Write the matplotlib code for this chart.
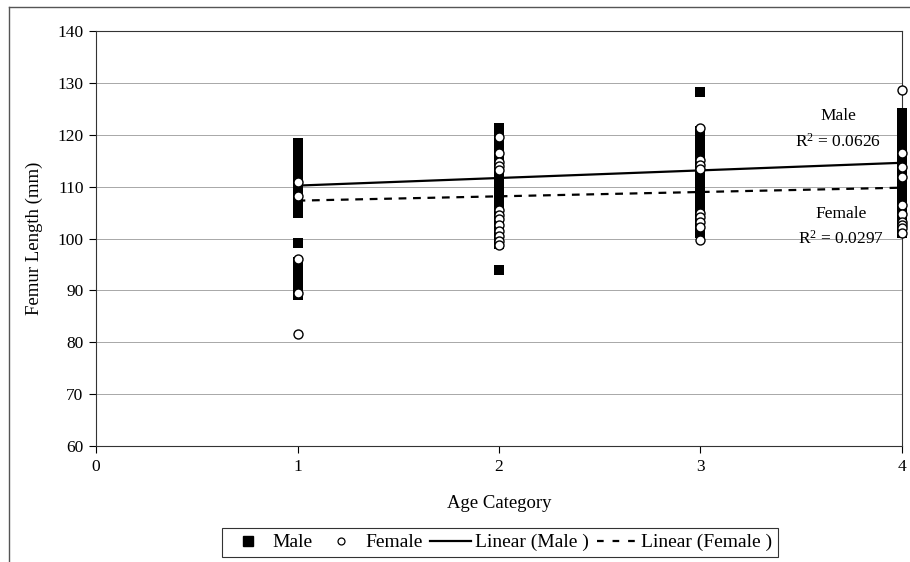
import numpy as np
import matplotlib
matplotlib.use("Agg")
import matplotlib.pyplot as plt
from matplotlib.lines import Line2D

plt.rcParams["font.family"] = ["Liberation Serif", "DejaVu Serif"]
plt.rcParams["mathtext.fontset"] = "custom"
plt.rcParams["mathtext.rm"] = "Liberation Serif"
plt.rcParams["mathtext.it"] = "Liberation Serif:italic"

# Femur length (mm) by age category
male_age1 = [118.4, 117.6, 116.8, 116.0, 115.2, 114.4, 113.6, 112.8, 112.0, 111.2,
             110.4, 109.6, 108.8, 108.0, 107.2, 106.4, 105.6, 105.0,
             99.2, 95.5, 94.7, 93.9, 93.1, 92.3, 91.5, 90.7, 89.9, 89.2]
male_age2 = [121.3, 120.5, 119.7, 118.9, 118.1, 117.3, 116.5, 115.7, 114.9, 114.1,
             113.3, 112.5, 111.7, 110.9, 110.1, 109.3, 108.5, 107.7, 106.9, 106.1,
             105.3, 104.5, 103.7, 102.9, 102.1, 101.3, 100.5, 99.7, 99.0, 94.0]
male_age3 = [128.3, 120.8, 120.0, 119.2, 118.4, 117.6, 116.8, 116.0, 115.2, 114.4,
             113.6, 112.8, 112.0, 111.2, 110.4, 109.6, 108.8, 108.0, 107.2, 106.4,
             105.6, 104.8, 104.0, 103.2, 102.4, 101.6, 101.0]
male_age4 = [124.1, 123.3, 122.5, 121.7, 120.9, 120.1, 119.3, 118.5, 117.7, 116.9,
             116.1, 115.3, 114.5, 113.7, 112.9, 112.1, 111.3, 110.5, 109.7, 108.9,
             108.1, 107.3, 106.5, 105.7, 104.9, 104.1, 103.3, 102.5, 101.7, 101.0]

female_age1 = [110.8, 108.1, 96.0, 89.4, 81.6]
female_age2 = [119.6, 116.5, 114.8, 114.0, 113.2, 105.5, 104.5, 103.7, 102.6,
               101.5, 100.5, 99.5, 98.8]
female_age3 = [121.4, 115.1, 114.2, 113.4, 104.9, 104.1, 103.2, 102.3, 99.8]
female_age4 = [128.6, 116.4, 113.8, 111.8, 106.5, 104.7, 103.2, 102.6, 102.0, 101.0]

# Linear trend lines: fitted values at age categories 1 and 4
trend_x = [1, 4]
male_trend = [110.2, 114.6]
female_trend = [107.3, 109.8]
male_r2 = 0.0626
female_r2 = 0.0297

x_ticks = [0, 1, 2, 3, 4]
y_ticks = [60, 70, 80, 90, 100, 110, 120, 130, 140]


def stack(groups):
    xs, ys = [], []
    for cat, vals in enumerate(groups, start=1):
        xs += [cat] * len(vals)
        ys += list(vals)
    return np.array(xs), np.array(ys)


mx, my = stack([male_age1, male_age2, male_age3, male_age4])
fx, fy = stack([female_age1, female_age2, female_age3, female_age4])

fig = plt.figure(figsize=(9.10, 5.62), dpi=100)
ax = fig.add_axes([0.1055, 0.2064, 0.8857, 0.7384])

ax.scatter(mx, my, marker="s", s=48, color="black", linewidths=0, zorder=3,
           clip_on=False)
ax.plot(trend_x, male_trend, color="black", lw=1.6, zorder=4)
ax.plot(trend_x, female_trend, color="black", lw=1.6, ls=(0, (3.5, 3)), zorder=4)
ax.scatter(fx, fy, marker="o", s=42, facecolor="white", edgecolor="black",
           linewidths=1.0, zorder=5, clip_on=False)

ax.set_xlim(0, 4)
ax.set_ylim(60, 140)
ax.set_xticks(x_ticks)
ax.set_yticks(y_ticks)
ax.tick_params(direction="out", length=5, width=0.8, labelsize=12.5, pad=4)
ax.yaxis.grid(True, color="#9a9a9a", lw=0.6)
ax.set_axisbelow(True)
for sp in ax.spines.values():
    sp.set_linewidth(0.8)
    sp.set_color("#333333")

ax.set_xlabel("Age Category", fontsize=13.5, labelpad=15)
ax.set_ylabel("Femur Length (mm)", fontsize=13.5, labelpad=10)

ax.text(3.683, 121.0, "Male\nR$^{2}$ = %.4f" % male_r2, ha="center", va="center",
        fontsize=12.5, linespacing=1.6, multialignment="center")
ax.text(3.698, 102.2, "Female\nR$^{2}$ = %.4f" % female_r2, ha="center", va="center",
        fontsize=12.5, linespacing=1.55, multialignment="center")

handles = [
    Line2D([], [], marker="s", ls="none", color="black", markersize=7),
    Line2D([], [], marker="o", ls="none", markerfacecolor="white",
           markeredgecolor="black", markersize=5, markeredgewidth=0.9),
    Line2D([], [], color="black", lw=1.6),
    Line2D([], [], color="black", lw=1.6, ls=(0, (3, 4))),
]
labels = ["Male", "Female", "Linear (Male )", "Linear (Female )"]
leg = fig.legend(handles, labels, loc="center", bbox_to_anchor=(0.5495, 0.0345),
                 ncol=4, fontsize=14, frameon=True, fancybox=False,
                 handlelength=2.1, handletextpad=0.2, columnspacing=0.4,
                 borderpad=0.3, borderaxespad=0, edgecolor="black")
leg.get_frame().set_linewidth(0.8)

# Chart border along the left and top edges
fig.add_artist(Line2D([9 / 910, 9 / 910], [0, 1 - 7 / 562], color="#555555",
                      lw=1.0, transform=fig.transFigure))
fig.add_artist(Line2D([9 / 910, 1], [1 - 7 / 562, 1 - 7 / 562], color="#555555",
                      lw=1.0, transform=fig.transFigure))

fig.savefig("out.png", dpi=100)
